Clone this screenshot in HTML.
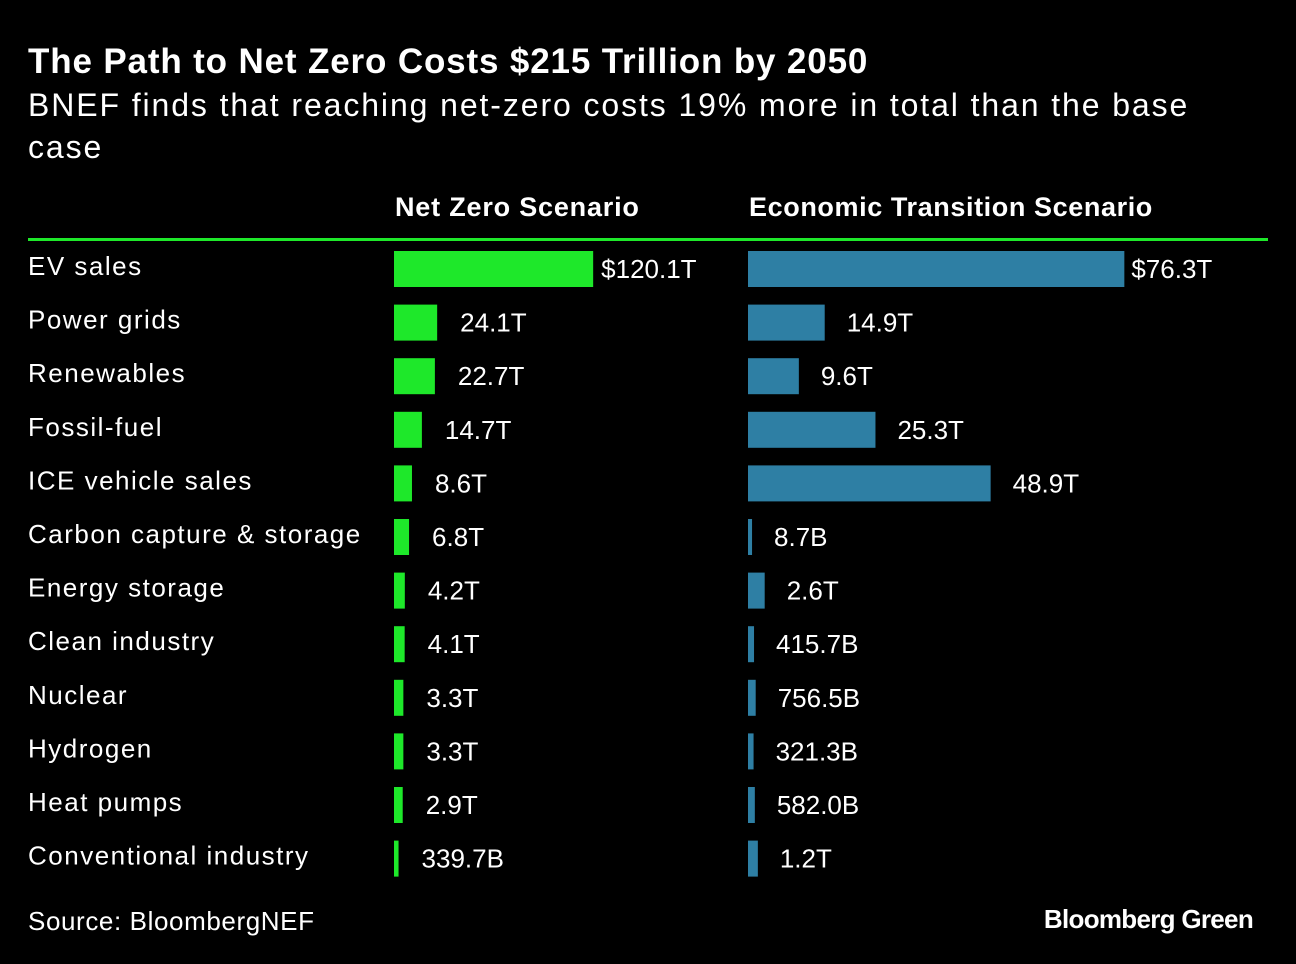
<!DOCTYPE html>
<html><head><meta charset="utf-8">
<style>
html,body{margin:0;padding:0;background:#000;}
body{width:1296px;height:964px;position:relative;overflow:hidden;font-family:"Liberation Sans",sans-serif;color:#fff;}
.t{position:absolute;white-space:nowrap;}
</style></head>
<body>
<div class="t" style="left:28px;top:42px;font-size:35px;font-weight:bold;letter-spacing:0.85px;">The Path to Net Zero Costs $215 Trillion by 2050</div>
<div class="t" style="left:28px;top:84px;font-size:32px;line-height:42px;letter-spacing:1.9px;white-space:normal;width:1190px;">BNEF finds that reaching net-zero costs 19% more in total than the base case</div>
<div class="t" style="left:395px;top:192px;font-size:27px;font-weight:bold;letter-spacing:0.8px;">Net Zero Scenario</div>
<div class="t" style="left:749px;top:192px;font-size:27px;font-weight:bold;letter-spacing:0.6px;">Economic Transition Scenario</div>
<div style="position:absolute;left:28px;top:238px;width:1240px;height:3px;background:#1ee82a;"></div>
<svg id="chart" width="1296" height="964" style="position:absolute;left:0;top:0;"></svg>
<div class="t" style="left:28px;top:906px;font-size:26px;letter-spacing:0.6px;">Source: BloombergNEF</div>
<div class="t" style="right:43px;top:904px;font-size:26px;font-weight:bold;letter-spacing:-0.7px;">Bloomberg Green</div>
<script>
const categories=["EV sales","Power grids","Renewables","Fossil-fuel","ICE vehicle sales","Carbon capture & storage","Energy storage","Clean industry","Nuclear","Hydrogen","Heat pumps","Conventional industry"];
const netZero=[120.1,24.1,22.7,14.7,8.6,6.8,4.2,4.1,3.3,3.3,2.9,0.3397];
const netZeroLabels=["$120.1T","24.1T","22.7T","14.7T","8.6T","6.8T","4.2T","4.1T","3.3T","3.3T","2.9T","339.7B"];
const econ=[76.3,14.9,9.6,25.3,48.9,0.0087,2.6,0.4157,0.7565,0.3213,0.582,1.2];
const econLabels=["$76.3T","14.9T","9.6T","25.3T","48.9T","8.7B","2.6T","415.7B","756.5B","321.3B","582.0B","1.2T"];
const svg=document.getElementById('chart');
const NS="http://www.w3.org/2000/svg";
function yRow(i){return 269+i*53.6;}
function xNZ(v){return 4+v*1.625;}
function xET(v){return 4+v*4.88;}
function mk(tag,attrs){const e=document.createElementNS(NS,tag);for(const k in attrs)e.setAttribute(k,attrs[k]);svg.appendChild(e);return e;}
categories.forEach((c,i)=>{
  const y=yRow(i);
  const lab=mk('text',{x:28,y:y+6,fill:'#fff','font-size':26,'font-family':'Liberation Sans, sans-serif','letter-spacing':'1.5'});
  lab.textContent=c;
  
  
  const w1=xNZ(netZero[i]);
  const b1=mk('rect',{x:394,y:y-18,width:w1,height:36,fill:'#1ee82a'});
  
  
  const l1=mk('text',{x:394+w1+8+(i===0?0:15),y:y+9,fill:'#fff','font-size':26,'font-family':'Liberation Sans, sans-serif','letter-spacing':'0'});
  l1.textContent=netZeroLabels[i];
  
  
  const w2=xET(econ[i]);
  const b2=mk('rect',{x:748,y:y-18,width:w2,height:36,fill:'#2e7fa4'});
  
  
  const l2=mk('text',{x:748+w2+7+(i===0?0:15),y:y+9,fill:'#fff','font-size':26,'font-family':'Liberation Sans, sans-serif','letter-spacing':'0'});
  l2.textContent=econLabels[i];
  
  
});
</script>
</body></html>
